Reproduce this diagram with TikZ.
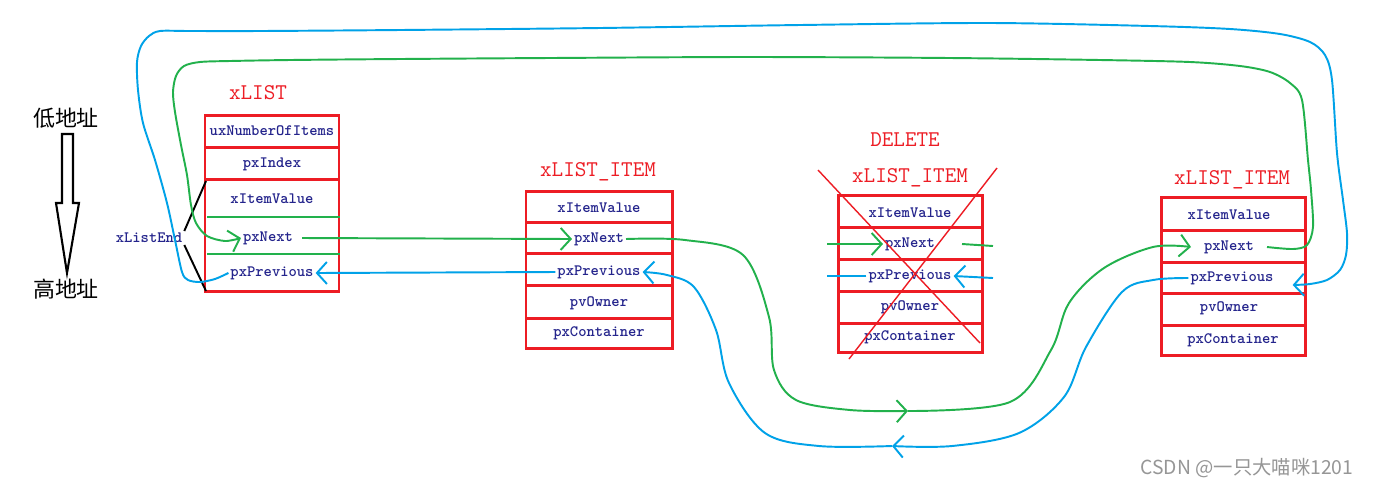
\documentclass[tikz,border=0pt]{standalone}
\usepackage{fontspec}
\newfontfamily\cjkfont{Noto Sans CJK SC}
\usetikzlibrary{positioning,arrows.meta}
\definecolor{lsRed}{RGB}{237,28,36}
\definecolor{lsGreen}{RGB}{34,177,76}
\definecolor{lsBlue}{RGB}{0,162,232}
\definecolor{lsNavy}{RGB}{36,36,140}
\definecolor{lsGray}{RGB}{150,150,150}
\tikzset{
    base/.style={inner sep=1pt},
    field/.style={base, font=\fontsize{9}{10}\selectfont\ttfamily\bfseries, text=lsNavy},
    boxname/.style={base, font=\fontsize{12.8}{14}\selectfont\ttfamily, text=lsRed},
    boxframe/.style={draw=lsRed, line width=1.7pt},
    nextlink/.style={draw=lsGreen, line width=1.1pt},
    prevlink/.style={draw=lsBlue, line width=1.1pt},
    barb/.style={-{Straight Barb[length=2mm,width=4.4mm]}},
    addr/.style={base, font=\fontsize{12.5}{14}\selectfont\cjkfont}
}
\begin{document}
\begin{tikzpicture}[x=0.02cm, y=-0.02cm]
  \fill[white] (0,0) rectangle (1373,488);
  \useasboundingbox (0,0) rectangle (1373,488);

  % address direction
  \node[addr] (lo) at (66,118) {低地址};
  \node[addr] (hi) at (66,289) {高地址};
  \draw[line width=1.2pt, line join=miter] (62,134) -- (73,134) -- (73,203) -- (79,203)
    -- (67,273) -- (56,203) -- (62,203) -- cycle;

  % xLIST
  \node[boxname] (lst) at (258,93) {xLIST};
  \draw[boxframe] (205,115) rectangle (339,291);
  \draw[boxframe] (205,147) -- (339,147) (205,179) -- (339,179);
  \draw[nextlink] (207,217) -- (340,217) (207,254) -- (340,254);
  \node[field] (lst-num) at (272,131) {uxNumberOfItems};
  \node[field] (lst-idx) at (272,164) {pxIndex};
  \node[field] (lst-val) at (272,199) {xItemValue};
  \node[field] (lst-next) at (268,238) {pxNext};
  \node[field] (lst-prev) at (272,273) {pxPrevious};

  % xListEnd
  \node[field] (le) at (149,238) {xListEnd};
  \coordinate (le-top) at (206,181);
  \coordinate (le-bot) at (206,291);
  \draw[line width=1.1pt] (le.north east) -- (le-top);
  \draw[line width=1.1pt] (le.south east) -- (le-bot);

  % first item
  \node[boxname] (itA) at (598,172) {xLIST\_ITEM};
  \draw[boxframe] (526,191) rectangle (672,348);
  \draw[boxframe] (526,222) -- (672,222) (526,253) -- (672,253)
    (526,285) -- (672,285) (526,318) -- (672,318);
  \node[field] (itA-val) at (599,208) {xItemValue};
  \node[field] (itA-next) at (599,239) {pxNext};
  \node[field] (itA-prev) at (599,272) {pxPrevious};
  \node[field] (itA-own) at (599,303) {pvOwner};
  \node[field] (itA-cont) at (599,333) {pxContainer};

  % deleted item
  \node[boxname] (delmark) at (905,140) {DELETE};
  \node[boxname] (del) at (910,178) {xLIST\_ITEM};
  \draw[boxframe] (838,195) rectangle (982,352);
  \draw[boxframe] (838,227) -- (982,227) (838,259) -- (982,259)
    (838,291) -- (982,291) (838,323) -- (982,323);
  \node[field] (del-val) at (910,213) {xItemValue};
  \node[field] (del-next) at (910,244) {pxNext};
  \node[field] (del-prev) at (910,276) {pxPrevious};
  \node[field] (del-own) at (910,307) {pvOwner};
  \node[field] (del-cont) at (910,337) {pxContainer};
  \draw[lsRed, line width=0.8pt] (818,170) -- (980,343) (997,168) -- (849,359);

  % last item
  \node[boxname] (itB) at (1232,180) {xLIST\_ITEM};
  \draw[boxframe] (1161,197) rectangle (1305,355);
  \draw[boxframe] (1161,230) -- (1305,230) (1161,262) -- (1305,262)
    (1161,293) -- (1305,293) (1161,325) -- (1305,325);
  \node[field] (itB-val) at (1229,215) {xItemValue};
  \node[field] (itB-next) at (1229,247) {pxNext};
  \node[field] (itB-prev) at (1232,278) {pxPrevious};
  \node[field] (itB-own) at (1229,308) {pvOwner};
  \node[field] (itB-cont) at (1233,340) {pxContainer};

  % pxNext links
  \coordinate (g-mid) at (908,411);
  \coordinate (dn-in) at (827,244);
  \coordinate (dn-out) at (993,246);
  \draw[nextlink, barb] ([xshift=0.14cm]lst-next.east) -- (itA-next.west);
  \draw[nextlink, barb] plot[smooth, tension=0.55] coordinates {(itA-next.east) (685,240)
    (743,255) (769,317) (774,370) (796,400) (850,410) (g-mid)};
  \draw[nextlink, barb] plot[smooth, tension=0.55] coordinates {(g-mid)
    (1010,402) (1051,350) (1069,303) (1104,268) (1153,247) ([xshift=-0.22cm]itB-next.west)};
  \draw[nextlink, barb] (dn-in) -- (del-next.west);
  \draw[nextlink] ([xshift=0.5cm]del-next.east) -- (dn-out);
  \draw[nextlink, barb] plot[smooth, tension=0.5] coordinates
    {([xshift=0.22cm]itB-next.east) (1293,249) (1307,245) (1313,227) (1311,190)
    (1308,160) (1302,100) (1290,83) (1270,72) (1240,66) (1190,62) (1100,60) (950,58)
    (750,57) (550,58) (400,59) (290,60) (230,61) (200,62) (184,66) (176,76) (173,92)
    (175,112) (181,145) (187,175) (191,205) (196,223) (207,236) (225,241)
    (lst-next.west)};

  % pxPrevious links
  \coordinate (b-mid) at (892,446);
  \coordinate (dp-out) at (827,276);
  \coordinate (dp-in) at (993,278);
  \draw[prevlink, barb] (itA-prev.west) -- (lst-prev.east);
  \draw[prevlink, barb] plot[smooth, tension=0.55] coordinates {(itB-prev.west) (1153,280)
    (1122,292) (1086,347) (1064,397) (1019,433) (952,446) (b-mid)};
  \draw[prevlink, barb] plot[smooth, tension=0.55] coordinates {(b-mid) (819,446)
    (765,433) (729,383) (716,330) (694,287) (667,275) (itA-prev.east)};
  \draw[prevlink] (del-prev.west) -- (dp-out);
  \draw[prevlink, barb] (dp-in) -- (del-prev.east);
  \draw[prevlink, barb] plot[smooth, tension=0.5] coordinates
    {(lst-prev.west) (215,279) (200,282) (188,280) (182,272) (175,240) (167,203)
    (155,160) (143,123) (138,90) (137,62) (141,46) (149,36) (160,31) (190,31) (260,31)
    (400,30) (600,28) (800,25) (990,23) (1150,26) (1230,29) (1280,34) (1310,42)
    (1325,55) (1332,80) (1337,153) (1343,200) (1347,233) (1346,255) (1340,270)
    (1327,280) (1310,284) ([shift={(0.34cm,-0.14cm)}]itB-prev.east)};

  % watermark
  \node[base, font=\fontsize{11}{13}\selectfont\cjkfont, text=lsGray] (mark) at (1247,468)
    {CSDN @一只大喵咪1201};
\end{tikzpicture}
\end{document}
